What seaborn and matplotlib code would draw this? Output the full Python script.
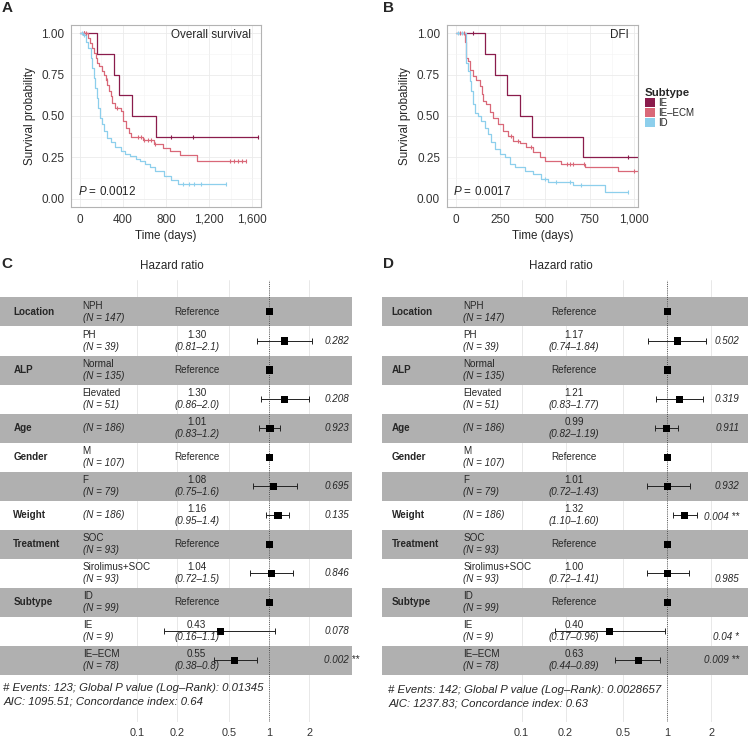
import numpy as np
import pandas as pd
import seaborn as sns
import matplotlib.pyplot as plt
import matplotlib.transforms as mtransforms
from matplotlib.patches import Patch
from matplotlib.ticker import FixedLocator, FixedFormatter, NullLocator

sns.set_style("white")
plt.rcParams['font.family'] = ['Liberation Sans', 'DejaVu Sans']
plt.rcParams['mathtext.fontset'] = 'custom'
plt.rcParams['mathtext.rm'] = 'Liberation Sans'
plt.rcParams['mathtext.it'] = 'Liberation Sans:italic'

subtypes = ['IE', 'IE–ECM', 'ID']
colors = {'IE': '#8A1C4C', 'IE–ECM': '#D96878', 'ID': '#8DCFEC'}

# Kaplan-Meier steps (time in days, survival after the step)
os_ie_t = [0, 163, 317, 369, 489, 711, 1650]
os_ie_s = [1.0, 0.875, 0.75, 0.625, 0.5, 0.375, 0.375]
os_ie_cens = [45, 850, 1050, 1650]

os_iecm_t = [0, 80, 95, 117, 135, 148, 165, 178, 209, 225, 240, 255, 271, 286, 302, 332,
             380, 403, 425, 455, 477, 590, 690, 770, 840, 930, 1090, 1539]
os_iecm_s = [1.0, 0.97, 0.94, 0.91, 0.88, 0.85, 0.82, 0.80, 0.77, 0.75, 0.72, 0.69, 0.65, 0.62,
             0.58, 0.55, 0.53, 0.47, 0.43, 0.40, 0.375, 0.355, 0.33, 0.305, 0.29, 0.265, 0.23, 0.23]
os_iecm_cens = [40, 60, 250, 350, 540, 570, 600, 630, 660, 700, 1390, 1430, 1470, 1500, 1539]

os_id_t = [0, 30, 55, 75, 102, 118, 132, 145, 157, 172, 188, 205, 225, 255, 286, 330, 379, 420,
           471, 520, 563, 610, 655, 700, 779, 850, 908, 1357]
os_id_s = [1.0, 0.99, 0.95, 0.91, 0.85, 0.79, 0.73, 0.67, 0.61, 0.55, 0.49, 0.45, 0.41, 0.37,
           0.34, 0.31, 0.29, 0.27, 0.257, 0.24, 0.227, 0.21, 0.19, 0.165, 0.137, 0.115, 0.09, 0.09]
os_id_cens = [20, 40, 960, 1010, 1060, 1120, 1357]

dfi_ie_t = [0, 163, 219, 287, 362, 430, 712, 1023]
dfi_ie_s = [1.0, 0.875, 0.75, 0.625, 0.5, 0.375, 0.25, 0.25]
dfi_ie_cens = [100, 966]

dfi_iecm_t = [0, 55, 60, 69, 80, 97, 116, 135, 145, 153, 172, 191, 209, 237, 265, 293, 322, 359,
              396, 434, 471, 499, 592, 723, 907, 1023]
dfi_iecm_s = [1.0, 0.95, 0.85, 0.83, 0.78, 0.74, 0.72, 0.68, 0.63, 0.59, 0.57, 0.525, 0.485, 0.45,
              0.41, 0.38, 0.35, 0.335, 0.315, 0.285, 0.255, 0.23, 0.21, 0.19, 0.165, 0.165]
dfi_iecm_cens = [25, 45, 310, 350, 420, 625, 640, 655, 720, 1000]

dfi_id_t = [0, 57, 69, 78, 87, 97, 106, 125, 144, 163, 181, 200, 219, 247, 275, 303, 331, 387,
            434, 480, 518, 660, 836, 965]
dfi_id_s = [1.0, 0.82, 0.77, 0.71, 0.65, 0.57, 0.52, 0.50, 0.47, 0.43, 0.39, 0.34, 0.30, 0.27,
            0.25, 0.21, 0.19, 0.17, 0.15, 0.12, 0.10, 0.08, 0.04, 0.04]
dfi_id_cens = [15, 35, 500, 560, 640, 700, 965]

# forest plot tables
var_rows = {'Location': 0, 'ALP': 2, 'Age': 4, 'Gender': 5, 'Weight': 7, 'Treatment': 8, 'Subtype': 10}
levels = ['NPH', 'PH', 'Normal', 'Elevated', '', 'M', 'F', '', 'SOC', 'Sirolimus+SOC', 'ID', 'IE', 'IE–ECM']
n_labels = ['(N = 147)', '(N = 39)', '(N = 135)', '(N = 51)', '(N = 186)', '(N = 107)', '(N = 79)',
            '(N = 186)', '(N = 93)', '(N = 93)', '(N = 99)', '(N = 9)', '(N = 78)']

hr_c = [1, 1.30, 1, 1.30, 1.01, 1, 1.08, 1.16, 1, 1.04, 1, 0.43, 0.55]
lo_c = [np.nan, 0.81, np.nan, 0.86, 0.83, np.nan, 0.75, 0.95, np.nan, 0.72, np.nan, 0.16, 0.38]
hi_c = [np.nan, 2.1, np.nan, 2.0, 1.2, np.nan, 1.6, 1.4, np.nan, 1.5, np.nan, 1.1, 0.8]
hr_txt_c = ['Reference', '1.30', 'Reference', '1.30', '1.01', 'Reference', '1.08', '1.16',
            'Reference', '1.04', 'Reference', '0.43', '0.55']
ci_txt_c = ['', '(0.81–2.1)', '', '(0.86–2.0)', '(0.83–1.2)', '', '(0.75–1.6)', '(0.95–1.4)',
            '', '(0.72–1.5)', '', '(0.16–1.1)', '(0.38–0.8)']
p_txt_c = ['', '0.282', '', '0.208', '0.923', '', '0.695', '0.135', '', '0.846', '', '0.078', '0.002 **']
footer_c = ['# Events: 123; Global P value (Log–Rank): 0.01345', 'AIC: 1095.51; Concordance index: 0.64']

hr_d = [1, 1.17, 1, 1.21, 0.99, 1, 1.01, 1.32, 1, 1.00, 1, 0.40, 0.63]
lo_d = [np.nan, 0.74, np.nan, 0.83, 0.82, np.nan, 0.72, 1.10, np.nan, 0.72, np.nan, 0.17, 0.44]
hi_d = [np.nan, 1.84, np.nan, 1.77, 1.19, np.nan, 1.43, 1.60, np.nan, 1.41, np.nan, 0.96, 0.89]
hr_txt_d = ['Reference', '1.17', 'Reference', '1.21', '0.99', 'Reference', '1.01', '1.32',
            'Reference', '1.00', 'Reference', '0.40', '0.63']
ci_txt_d = ['', '(0.74–1.84)', '', '(0.83–1.77)', '(0.82–1.19)', '', '(0.72–1.43)', '(1.10–1.60)',
            '', '(0.72–1.41)', '', '(0.17–0.96)', '(0.44–0.89)']
p_txt_d = ['', '0.502', '', '0.319', '0.911', '', '0.932', '0.004 **', '', '0.985', '', '0.04 *', '0.009 **']
footer_d = ['# Events: 142; Global P value (Log–Rank): 0.0028657', 'AIC: 1237.83; Concordance index: 0.63']

breaks = [0.1, 0.2, 0.5, 1, 2]

W, H = 749, 738
fig = plt.figure(figsize=(W / 100, H / 100), dpi=100)


def px_axes(x0, y0, x1, y1):
    return fig.add_axes([x0 / W, 1 - y1 / H, (x1 - x0) / W, (y1 - y0) / H])


def km_panel(ax, curves, xlim, xticks, xlabels, minor, title, ptxt):
    frames = []
    for name, (t, s, c) in curves.items():
        frames.append(pd.DataFrame({'time': t, 'surv': s, 'subtype': name}))
    df = pd.concat(frames, ignore_index=True)
    sns.lineplot(data=df, x='time', y='surv', hue='subtype', hue_order=subtypes, palette=colors,
                 drawstyle='steps-post', estimator=None, sort=False, legend=False, lw=0.9, ax=ax)
    for name, (t, s, c) in curves.items():
        idx = np.searchsorted(t, c, side='right') - 1
        ax.plot(c, np.array(s)[idx], ls='none', marker='|', ms=3.5, mew=0.8, color=colors[name])
    ax.set_xlim(*xlim)
    ax.set_ylim(-0.05, 1.05)
    ax.set_xticks(xticks)
    ax.set_xticklabels(xlabels)
    ax.set_xticks(minor, minor=True)
    ax.set_yticks([0, 0.25, 0.5, 0.75, 1.0])
    ax.set_yticklabels(['0.00', '0.25', '0.50', '0.75', '1.00'])
    ax.set_yticks([0.125, 0.375, 0.625, 0.875], minor=True)
    ax.grid(True, which='major', color='#EBEBEB', lw=0.6)
    ax.grid(True, which='minor', color='#F3F3F3', lw=0.4)
    ax.set_axisbelow(True)
    for sp in ax.spines.values():
        sp.set_color('#B3B3B3')
        sp.set_linewidth(0.8)
    ax.tick_params(which='major', length=2.75, width=0.6, color='#B3B3B3', labelsize=8.5,
                   labelcolor='#333333', pad=2)
    ax.tick_params(which='minor', length=0)
    ax.set_xlabel('Time (days)', fontsize=8.4, labelpad=3)
    ax.set_ylabel('Survival probability', fontsize=8.4, labelpad=4)
    ax.text(0.95, 0.945, title, transform=ax.transAxes, ha='right', va='center', fontsize=8.4)
    ax.text(0.035, 0.084, ptxt, transform=ax.transAxes, ha='left', va='center', fontsize=8.4)


ax_a = px_axes(71, 25, 261, 207)
km_panel(ax_a, {'IE': (os_ie_t, os_ie_s, os_ie_cens),
                'IE–ECM': (os_iecm_t, os_iecm_s, os_iecm_cens),
                'ID': (os_id_t, os_id_s, os_id_cens)},
         (-80, 1680), [0, 400, 800, 1200, 1600], ['0', '400', '800', '1,200', '1,600'],
         [200, 600, 1000, 1400], 'Overall survival', r'$\mathit{P}$ = 0.0012')

ax_b = px_axes(446.7, 25, 638.3, 207)
km_panel(ax_b, {'IE': (dfi_ie_t, dfi_ie_s, dfi_ie_cens),
                'IE–ECM': (dfi_iecm_t, dfi_iecm_s, dfi_iecm_cens),
                'ID': (dfi_id_t, dfi_id_s, dfi_id_cens)},
         (-50, 1023), [0, 250, 500, 750, 1000], ['0', '250', '500', '750', '1,000'],
         [125, 375, 625, 875], 'DFI', r'$\mathit{P}$ = 0.0017')

fig.legend(handles=[Patch(facecolor=colors[s], edgecolor='none', label=s) for s in subtypes],
           loc='upper left', bbox_to_anchor=(645 / W, 1 - 88 / H), frameon=False,
           title='Subtype', title_fontproperties={'weight': 'bold', 'size': 8.2},
           fontsize=7.0, handlelength=1.05, handleheight=1.0, labelspacing=0,
           handletextpad=0.35, borderpad=0, borderaxespad=0, alignment='left')


def forest_panel(ax, hr, lo, hi, hr_txt, ci_txt, p_txt, xlim, cols, p_ha, footer, foot_x, foot_y, p_dy):
    hr = np.array(hr, dtype=float)
    lo = np.array(lo, dtype=float)
    hi = np.array(hi, dtype=float)
    rows = np.arange(len(hr))
    ax.set_xscale('log')
    for b in breaks:
        ax.axvline(b, color='#E4E4E4', lw=0.6, zorder=0)
    for r in rows[::2]:
        ax.axhspan(r - 0.5, r + 0.5, color='#B0B0B0', lw=0, zorder=1)
    ax.axvline(1, color='#333333', ls=(0, (1, 1.6)), lw=0.6, zorder=2)
    m = ~np.isnan(lo)
    ax.errorbar(hr[m], rows[m], xerr=[hr[m] - lo[m], hi[m] - hr[m]], fmt='none', ecolor='#222222',
                elinewidth=0.7, capsize=2, capthick=0.7, zorder=3)
    sns.scatterplot(x=hr, y=rows, marker='s', s=26, color='black', edgecolor='none', ax=ax, zorder=4)
    ax.set_xlim(*xlim)
    ax.set_ylim(14.12, -1.10)
    ax.xaxis.set_major_locator(FixedLocator(breaks))
    ax.xaxis.set_major_formatter(FixedFormatter(['0.1', '0.2', '0.5', '1', '2']))
    ax.xaxis.set_minor_locator(NullLocator())
    ax.set_yticks([])
    ax.set_xlabel('')
    ax.set_ylabel('')
    for sp in ax.spines.values():
        sp.set_visible(False)
    ax.tick_params(axis='x', length=0, pad=4, labelsize=7.8, labelcolor='#333333')
    tr = mtransforms.blended_transform_factory(ax.transAxes, ax.transData)
    fs = 7.1
    for name, r in var_rows.items():
        ax.text(cols[0], r, name, transform=tr, ha='left', va='center', fontsize=fs,
                fontweight='bold', zorder=5)
    for r in rows:
        if levels[r]:
            ax.text(cols[1], r - 0.21, levels[r], transform=tr, ha='left', va='center', fontsize=fs, zorder=5)
            ax.text(cols[1], r + 0.2, n_labels[r], transform=tr, ha='left', va='center', fontsize=fs,
                    style='italic', zorder=5)
        else:
            ax.text(cols[1], r, n_labels[r], transform=tr, ha='left', va='center', fontsize=fs,
                    style='italic', zorder=5)
        if ci_txt[r]:
            ax.text(cols[2], r - 0.21, hr_txt[r], transform=tr, ha='center', va='center', fontsize=fs, zorder=5)
            ax.text(cols[2], r + 0.19, ci_txt[r], transform=tr, ha='center', va='center', fontsize=fs,
                    style='italic', zorder=5)
        else:
            ax.text(cols[2], r, hr_txt[r], transform=tr, ha='center', va='center', fontsize=fs, zorder=5)
        if p_txt[r]:
            ax.text(cols[3], r + p_dy.get(r, 0), p_txt[r], transform=tr, ha=p_ha, va='center',
                    fontsize=fs, style='italic', zorder=5)
    for line, y in zip(footer, foot_y):
        ax.text(foot_x, y, line, transform=tr, ha='left', va='center', fontsize=8.2, style='italic', zorder=5)


ax_c = px_axes(0, 280, 351.7, 722)
forest_panel(ax_c, hr_c, lo_c, hi_c, hr_txt_c, ci_txt_c, p_txt_c, (10 ** -2.03, 10 ** 0.62),
             [0.038, 0.235, 0.559, 0.922], 'left', footer_c, 0.009, [12.96, 13.42], {})

ax_d = px_axes(382.3, 280, 748.3, 722)
forest_panel(ax_d, hr_d, lo_d, hi_d, hr_txt_d, ci_txt_d, p_txt_d, (10 ** -1.957, 10 ** 0.556),
             [0.026, 0.221, 0.524, 0.975], 'right', footer_d, 0.016, [13.02, 13.47],
             {7: 0.06, 9: 0.18, 11: 0.2})

fig.text(172 / W, 1 - 265.7 / H, 'Hazard ratio', ha='center', va='center', fontsize=8.4)
fig.text(560.7 / W, 1 - 265.7 / H, 'Hazard ratio', ha='center', va='center', fontsize=8.4)

for letter, x, y in [('A', 6.7, 8.5), ('B', 388, 8.5), ('C', 6.7, 264), ('D', 388, 264)]:
    fig.text(x / W, 1 - y / H, letter, ha='center', va='center', fontsize=11, fontweight='bold')

fig.savefig('out.png', dpi=100)
